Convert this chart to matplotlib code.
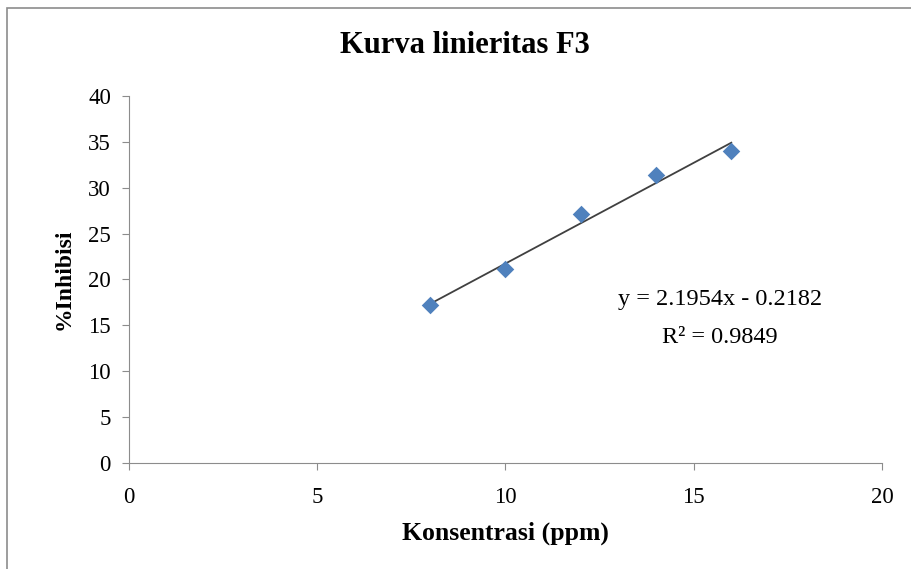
import numpy as np
import matplotlib.pyplot as plt
from matplotlib.patches import Rectangle

plt.rcParams['font.family'] = ['Liberation Serif', 'DejaVu Serif']

konsentrasi = [8, 10, 12, 14, 16]
inhibisi = [17.2, 21.1, 27.1, 31.4, 34.0]
slope = 2.1954
intercept = -0.2182
r2 = 0.9849

fig = plt.figure(figsize=(9.12, 5.69), dpi=100)
# chart frame
fig.patches.append(Rectangle((0.008, -0.01), 0.995, 0.996, transform=fig.transFigure,
                             fill=False, edgecolor='#8c8c8c', lw=1.2))
ax = fig.add_axes([0.1414, 0.1863, 0.8256, 0.645])

ax.scatter(konsentrasi, inhibisi, marker='D', s=80, color='#4f81bd', zorder=3, linewidths=0)
xt = np.array([konsentrasi[0], konsentrasi[-1]])
ax.plot(xt, slope * xt + intercept, color='#404040', lw=1.3, zorder=2)

ax.text(15.7, 17.8, 'y = %.4fx - %.4f' % (slope, -intercept), ha='center', va='center', fontsize=17.5)
ax.text(15.7, 13.7, 'R² = %.4f' % r2, ha='center', va='center', fontsize=17.5)

ax.set_xlim(0, 20)
ax.set_ylim(0, 40)
ax.set_xticks(range(0, 21, 5))
ax.set_yticks(range(0, 41, 5))
for s in ['top', 'right']:
    ax.spines[s].set_visible(False)
for s in ['left', 'bottom']:
    ax.spines[s].set_color('#8c8c8c')
ax.tick_params(colors='#8c8c8c', labelcolor='black', labelsize=16.5, length=5, direction='out')
ax.tick_params(axis='x', pad=12)
ax.tick_params(axis='y', pad=8)

ax.set_xlabel('Konsentrasi (ppm)', fontsize=18.5, fontweight='bold', labelpad=10)
ax.set_ylabel('%Inhibisi', fontsize=17, fontweight='bold', labelpad=10)
fig.text(0.51, 0.92, 'Kurva linieritas F3', ha='center', va='center', fontsize=22, fontweight='bold')

fig.savefig('out.png', dpi=100)
